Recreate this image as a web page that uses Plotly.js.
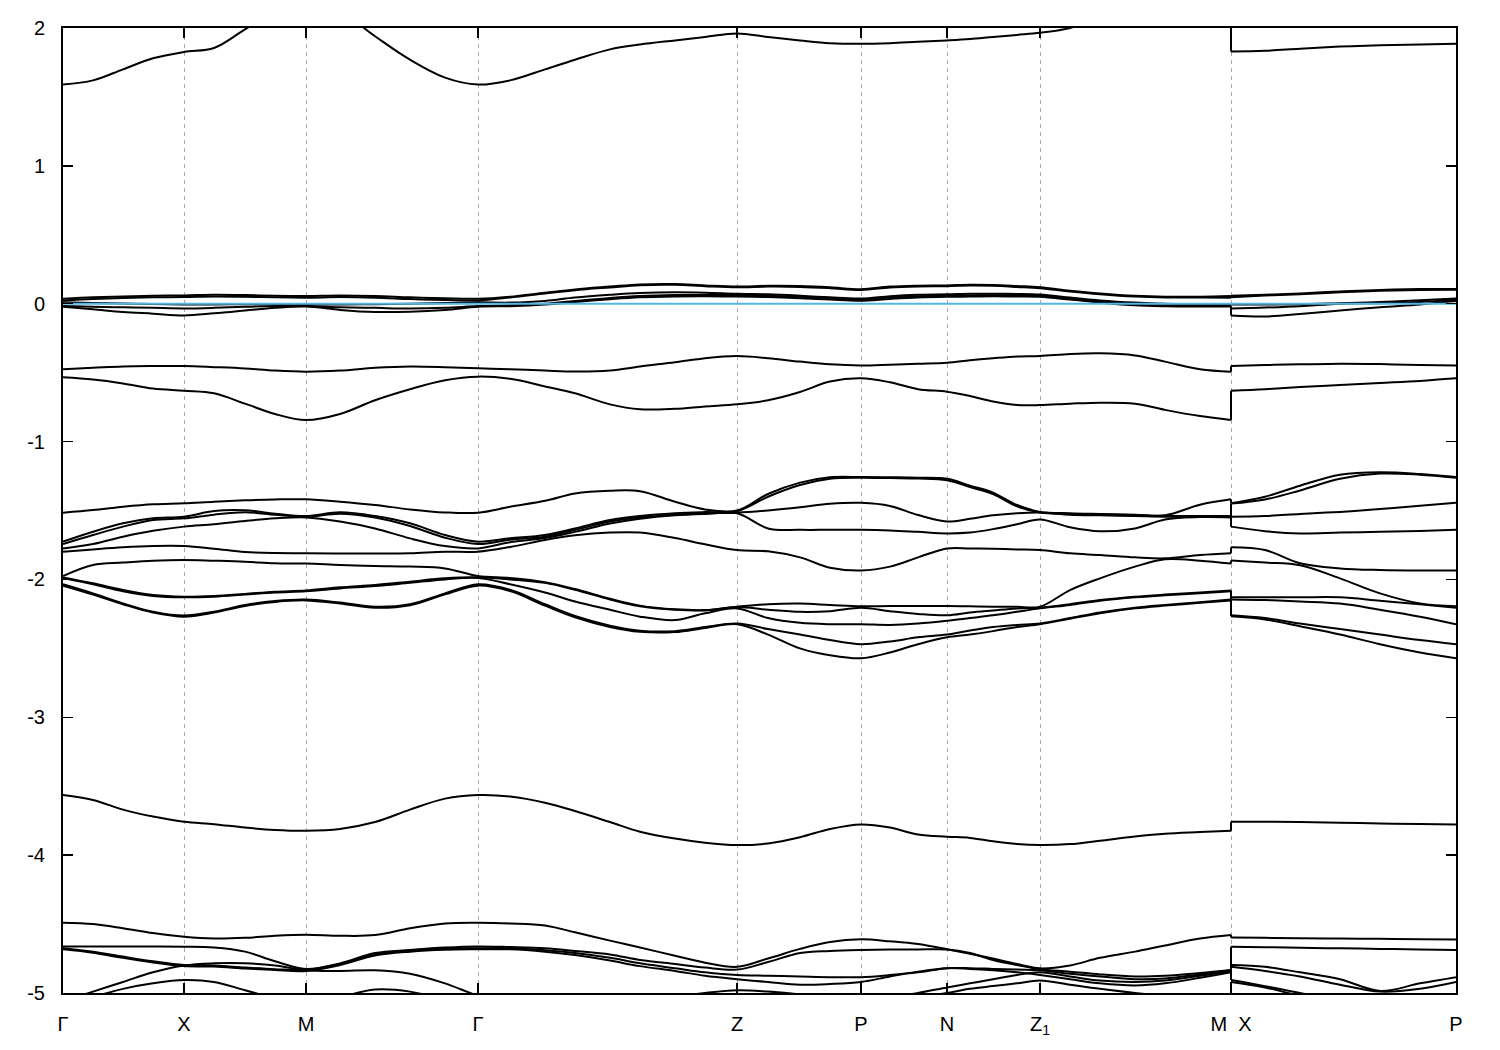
<!DOCTYPE html>
<html><head><meta charset="utf-8">
<script src="https://cdn.plot.ly/plotly-3.0.1.min.js"></script>
<style>html,body{margin:0;padding:0;background:#fff}#plot{width:1500px;height:1050px}</style>
</head><body><div id="plot"></div>
<script>
// k-path sample positions (arbitrary path-length units); index 38 = M (end of first path), 39 = X (start of second path)
const kGrid = [0, 0.030, 0.060, 0.090, 0.121, 0.151, 0.182, 0.212, 0.243, 0.277, 0.312, 0.347, 0.382, 0.415,
  0.447, 0.482, 0.512, 0.547, 0.577, 0.612, 0.642, 0.674, 0.705, 0.737, 0.767, 0.798, 0.827, 0.855, 0.884,
  0.907, 0.930, 0.954, 0.977, 1.007, 1.037, 1.072, 1.102, 1.137, 1.168, 1.168, 1.202, 1.237, 1.277, 1.317, 1.357, 1.393];
const kTicks = [0, 0.121, 0.243, 0.415, 0.674, 0.798, 0.884, 0.977, 1.168, 1.393];
const kLabels = ['Γ', 'X', 'M', 'Γ', 'Z', 'P', 'N', 'Z<sub>1</sub>', 'M\u00a0\u00a0X', 'P'];
const eTicks = [-5, -4, -3, -2, -1, 0, 1, 2];
const eLabels = ['-5', '-4', '-3', '-2', '-1', '0', '1', '2'];
const EF = 0;

// conduction band
const T = [1.59,1.62,1.70,1.78,1.826,1.855,1.99,2.12,2.18,2.12,1.94,1.77,1.64,1.59,1.62,1.70,1.77,1.845,1.88,1.91,1.935,1.96,1.935,1.91,1.89,1.885,1.89,1.90,1.91,1.92,1.935,1.95,1.965,2.0,2.08,2.15,2.2,2.2,2.18,1.83,1.835,1.85,1.865,1.875,1.88,1.885];
// bands near the Fermi level
const F1 = [0.036,0.046,0.053,0.058,0.06,0.065,0.063,0.058,0.056,0.06,0.056,0.046,0.039,0.036,0.051,0.08,0.104,0.124,0.14,0.143,0.133,0.125,0.13,0.128,0.119,0.105,0.124,0.131,0.133,0.138,0.136,0.128,0.119,0.095,0.075,0.058,0.051,0.051,0.056,0.058,0.065,0.075,0.089,0.10,0.106,0.107];
const F2 = [0.024,0.034,0.041,0.046,0.048,0.053,0.051,0.046,0.044,0.048,0.044,0.034,0.027,0.024,0.045,0.074,0.098,0.118,0.134,0.137,0.127,0.119,0.124,0.122,0.113,0.10,0.118,0.125,0.127,0.132,0.13,0.122,0.113,0.089,0.069,0.052,0.045,0.045,0.044,0.046,0.059,0.069,0.083,0.094,0.1,0.101];
const F3 = [0.01,0.006,0.002,-0.002,-0.005,-0.005,-0.004,-0.004,-0.005,-0.005,-0.003,0.0,0.005,0.01,0.008,0.02,0.045,0.065,0.078,0.083,0.08,0.072,0.068,0.058,0.046,0.038,0.055,0.065,0.068,0.072,0.073,0.071,0.066,0.045,0.024,0.008,0.0,-0.003,-0.005,-0.005,-0.006,-0.003,0.003,0.012,0.026,0.038];
const F4 = [-0.017,-0.022,-0.026,-0.03,-0.034,-0.03,-0.022,-0.017,-0.017,-0.025,-0.03,-0.035,-0.03,-0.017,-0.012,0.0,0.02,0.042,0.056,0.063,0.064,0.063,0.058,0.05,0.04,0.03,0.045,0.054,0.058,0.06,0.062,0.06,0.058,0.035,0.014,-0.005,-0.012,-0.015,-0.017,-0.034,-0.028,-0.018,0.0,0.004,0.012,0.028];
const F5 = [-0.022,-0.04,-0.06,-0.072,-0.085,-0.07,-0.05,-0.03,-0.02,-0.045,-0.06,-0.058,-0.045,-0.022,-0.018,-0.006,0.012,0.033,0.047,0.053,0.054,0.052,0.048,0.04,0.03,0.022,0.035,0.045,0.05,0.052,0.054,0.052,0.05,0.03,0.008,-0.012,-0.018,-0.02,-0.02,-0.085,-0.092,-0.075,-0.05,-0.025,-0.005,0.02];
// bands around -0.5 eV
const U1 = [-0.475,-0.465,-0.455,-0.452,-0.452,-0.46,-0.47,-0.485,-0.493,-0.485,-0.465,-0.455,-0.46,-0.469,-0.475,-0.485,-0.492,-0.485,-0.455,-0.425,-0.395,-0.38,-0.395,-0.42,-0.44,-0.448,-0.442,-0.435,-0.428,-0.41,-0.395,-0.382,-0.379,-0.365,-0.36,-0.375,-0.42,-0.476,-0.493,-0.452,-0.445,-0.44,-0.435,-0.438,-0.445,-0.448];
const U2 = [-0.534,-0.55,-0.578,-0.615,-0.631,-0.65,-0.725,-0.80,-0.844,-0.80,-0.70,-0.62,-0.555,-0.529,-0.545,-0.6,-0.65,-0.73,-0.766,-0.762,-0.745,-0.73,-0.70,-0.64,-0.565,-0.541,-0.57,-0.62,-0.638,-0.67,-0.71,-0.735,-0.735,-0.725,-0.718,-0.725,-0.77,-0.815,-0.844,-0.631,-0.62,-0.605,-0.59,-0.575,-0.56,-0.541];
// bands between -1.2 and -2.6 eV
const G1 = [-1.516,-1.497,-1.473,-1.455,-1.448,-1.436,-1.426,-1.42,-1.419,-1.436,-1.46,-1.492,-1.514,-1.516,-1.473,-1.43,-1.376,-1.357,-1.36,-1.436,-1.492,-1.50,-1.38,-1.298,-1.259,-1.257,-1.259,-1.262,-1.27,-1.32,-1.37,-1.46,-1.51,-1.52,-1.525,-1.53,-1.535,-1.458,-1.419,-1.448,-1.40,-1.32,-1.24,-1.222,-1.235,-1.257];
const G2 = [-1.726,-1.654,-1.593,-1.557,-1.545,-1.504,-1.499,-1.523,-1.54,-1.513,-1.54,-1.593,-1.678,-1.726,-1.702,-1.678,-1.63,-1.569,-1.54,-1.52,-1.511,-1.505,-1.40,-1.315,-1.27,-1.262,-1.265,-1.268,-1.28,-1.33,-1.38,-1.47,-1.515,-1.525,-1.53,-1.535,-1.54,-1.54,-1.54,-1.45,-1.42,-1.355,-1.27,-1.232,-1.24,-1.262];
const G3 = [-1.743,-1.678,-1.617,-1.569,-1.557,-1.53,-1.513,-1.53,-1.545,-1.523,-1.55,-1.612,-1.697,-1.743,-1.712,-1.69,-1.642,-1.58,-1.55,-1.53,-1.52,-1.516,-1.50,-1.477,-1.451,-1.444,-1.467,-1.533,-1.58,-1.56,-1.535,-1.52,-1.515,-1.53,-1.535,-1.54,-1.545,-1.545,-1.545,-1.545,-1.54,-1.525,-1.51,-1.49,-1.465,-1.444];
const G4 = [-1.775,-1.743,-1.69,-1.647,-1.617,-1.60,-1.576,-1.557,-1.55,-1.58,-1.63,-1.702,-1.758,-1.775,-1.73,-1.70,-1.655,-1.595,-1.56,-1.535,-1.525,-1.52,-1.63,-1.64,-1.64,-1.64,-1.645,-1.655,-1.666,-1.66,-1.635,-1.60,-1.565,-1.622,-1.651,-1.63,-1.565,-1.548,-1.55,-1.617,-1.65,-1.666,-1.66,-1.655,-1.648,-1.64];
const G5 = [-1.799,-1.782,-1.767,-1.758,-1.758,-1.777,-1.801,-1.809,-1.81,-1.812,-1.812,-1.81,-1.799,-1.799,-1.765,-1.714,-1.68,-1.66,-1.66,-1.70,-1.745,-1.787,-1.796,-1.84,-1.915,-1.935,-1.907,-1.84,-1.775,-1.775,-1.777,-1.782,-1.787,-1.811,-1.823,-1.84,-1.847,-1.823,-1.81,-1.767,-1.787,-1.883,-1.92,-1.932,-1.936,-1.935];
const G6 = [-1.975,-1.895,-1.878,-1.864,-1.859,-1.864,-1.871,-1.883,-1.885,-1.895,-1.902,-1.907,-1.92,-1.975,-1.99,-2.02,-2.07,-2.14,-2.19,-2.217,-2.222,-2.198,-2.18,-2.175,-2.185,-2.195,-2.193,-2.193,-2.193,-2.195,-2.198,-2.199,-2.198,-2.077,-1.992,-1.907,-1.854,-1.864,-1.885,-1.862,-1.878,-1.897,-1.992,-2.101,-2.174,-2.195];
const G7 = [-1.985,-2.028,-2.077,-2.113,-2.125,-2.12,-2.105,-2.089,-2.08,-2.057,-2.04,-2.016,-1.992,-1.985,-2.0,-2.025,-2.075,-2.145,-2.195,-2.22,-2.225,-2.20,-2.22,-2.235,-2.23,-2.205,-2.23,-2.25,-2.26,-2.24,-2.225,-2.21,-2.205,-2.18,-2.15,-2.125,-2.11,-2.095,-2.08,-2.13,-2.13,-2.13,-2.13,-2.155,-2.18,-2.205];
const G8 = [-1.99,-2.035,-2.085,-2.12,-2.13,-2.125,-2.11,-2.095,-2.086,-2.065,-2.048,-2.024,-2.0,-1.99,-2.035,-2.095,-2.16,-2.22,-2.27,-2.295,-2.246,-2.21,-2.28,-2.315,-2.325,-2.325,-2.33,-2.32,-2.30,-2.28,-2.26,-2.235,-2.21,-2.185,-2.155,-2.13,-2.115,-2.10,-2.086,-2.145,-2.15,-2.16,-2.175,-2.22,-2.27,-2.325];
const G9 = [-2.035,-2.101,-2.174,-2.234,-2.262,-2.234,-2.186,-2.157,-2.146,-2.168,-2.198,-2.18,-2.101,-2.035,-2.075,-2.18,-2.265,-2.335,-2.372,-2.375,-2.345,-2.32,-2.36,-2.40,-2.44,-2.47,-2.45,-2.42,-2.40,-2.37,-2.345,-2.33,-2.319,-2.28,-2.24,-2.205,-2.185,-2.165,-2.146,-2.26,-2.28,-2.32,-2.36,-2.40,-2.44,-2.47];
const G10 = [-2.045,-2.11,-2.18,-2.24,-2.27,-2.24,-2.192,-2.163,-2.152,-2.175,-2.205,-2.187,-2.108,-2.045,-2.085,-2.19,-2.275,-2.345,-2.38,-2.382,-2.352,-2.325,-2.40,-2.50,-2.55,-2.572,-2.53,-2.47,-2.42,-2.40,-2.375,-2.345,-2.325,-2.285,-2.245,-2.21,-2.19,-2.17,-2.152,-2.267,-2.29,-2.34,-2.40,-2.47,-2.53,-2.572];
// band around -3.8 eV
const V = [-3.564,-3.60,-3.67,-3.72,-3.757,-3.775,-3.80,-3.817,-3.823,-3.81,-3.76,-3.67,-3.59,-3.564,-3.575,-3.62,-3.68,-3.76,-3.83,-3.88,-3.91,-3.927,-3.915,-3.87,-3.81,-3.777,-3.80,-3.85,-3.866,-3.875,-3.90,-3.92,-3.927,-3.92,-3.895,-3.865,-3.845,-3.833,-3.823,-3.757,-3.758,-3.760,-3.765,-3.770,-3.774,-3.777];
// bands below -4.4 eV
const B1 = [-4.49,-4.50,-4.53,-4.565,-4.592,-4.605,-4.60,-4.585,-4.577,-4.585,-4.58,-4.53,-4.495,-4.49,-4.495,-4.51,-4.56,-4.62,-4.67,-4.73,-4.78,-4.81,-4.75,-4.68,-4.63,-4.611,-4.625,-4.645,-4.683,-4.715,-4.75,-4.79,-4.821,-4.80,-4.745,-4.70,-4.655,-4.605,-4.579,-4.598,-4.60,-4.602,-4.605,-4.607,-4.61,-4.612];
const B2 = [-4.662,-4.662,-4.663,-4.663,-4.664,-4.67,-4.70,-4.77,-4.825,-4.785,-4.71,-4.688,-4.67,-4.662,-4.667,-4.676,-4.695,-4.72,-4.76,-4.79,-4.815,-4.83,-4.775,-4.71,-4.695,-4.688,-4.685,-4.684,-4.684,-4.71,-4.76,-4.797,-4.828,-4.845,-4.865,-4.88,-4.875,-4.855,-4.833,-4.664,-4.668,-4.672,-4.676,-4.68,-4.684,-4.688];
const B3 = [-4.675,-4.70,-4.736,-4.77,-4.797,-4.80,-4.815,-4.827,-4.833,-4.79,-4.72,-4.692,-4.678,-4.675,-4.675,-4.69,-4.71,-4.745,-4.785,-4.82,-4.85,-4.87,-4.875,-4.88,-4.885,-4.885,-4.87,-4.85,-4.82,-4.82,-4.825,-4.83,-4.835,-4.86,-4.88,-4.90,-4.895,-4.865,-4.835,-4.797,-4.81,-4.85,-4.90,-4.985,-4.93,-4.885];
const B4 = [-5.06,-4.99,-4.92,-4.85,-4.80,-4.785,-4.785,-4.80,-4.835,-4.84,-4.835,-4.86,-4.93,-5.02,-5.08,-5.12,-5.14,-5.12,-5.08,-5.03,-5.0,-4.98,-4.99,-5.01,-5.03,-5.04,-5.03,-5.0,-4.96,-4.93,-4.9,-4.87,-4.85,-4.88,-4.91,-4.92,-4.91,-4.875,-4.84,-4.906,-4.95,-5.0,-5.05,-5.08,-5.07,-5.04];
const B5 = [-5.1,-5.03,-4.97,-4.93,-4.906,-4.92,-4.98,-5.04,-5.08,-5.03,-4.975,-4.99,-5.05,-5.1,-5.12,-5.13,-5.13,-5.12,-5.1,-5.07,-5.04,-5.02,-5.03,-5.05,-5.06,-5.06,-5.05,-5.03,-5.0,-4.97,-4.95,-4.93,-4.91,-4.94,-4.97,-5.0,-5.02,-5.04,-5.08,-4.92,-4.96,-5.02,-5.07,-5.1,-5.08,-5.06];
const B6 = [-4.683,-4.708,-4.745,-4.778,-4.805,-4.808,-4.822,-4.833,-4.84,-4.797,-4.728,-4.70,-4.686,-4.683,-4.683,-4.70,-4.725,-4.765,-4.805,-4.84,-4.875,-4.9,-4.92,-4.94,-4.935,-4.92,-4.88,-4.845,-4.82,-4.825,-4.835,-4.85,-4.87,-4.9,-4.93,-4.945,-4.93,-4.89,-4.85,-4.81,-4.84,-4.88,-4.94,-4.99,-4.97,-4.92];

const bands = [T, F1, F2, F3, F4, F5, U1, U2, G1, G2, G3, G4, G5, G6, G7, G8, G9, G10, V, B1, B2, B3, B4, B5, B6];
const SPLIT = 39; // first index of the X-P path

const bandLine = {color: '#000000', width: 2, shape: 'spline', smoothing: 1};
const jumpLine = {color: '#000000', width: 2};
const traces = [];
bands.forEach(function (b) {
  traces.push({type: 'scatter', mode: 'lines', x: kGrid.slice(0, SPLIT), y: b.slice(0, SPLIT),
    line: bandLine, hoverinfo: 'skip', showlegend: false});
  traces.push({type: 'scatter', mode: 'lines', x: kGrid.slice(SPLIT - 1, SPLIT + 1), y: b.slice(SPLIT - 1, SPLIT + 1),
    line: jumpLine, hoverinfo: 'skip', showlegend: false});
  traces.push({type: 'scatter', mode: 'lines', x: kGrid.slice(SPLIT), y: b.slice(SPLIT),
    line: bandLine, hoverinfo: 'skip', showlegend: false});
});
traces.push({type: 'scatter', mode: 'lines', x: [kGrid[0], kGrid[kGrid.length - 1]], y: [EF, EF],
  line: {color: '#56b4e9', width: 2}, hoverinfo: 'skip', showlegend: false});

const axisCommon = {
  ticks: 'inside', ticklen: 10, tickwidth: 1.5, tickcolor: '#000',
  mirror: 'allticks', showline: true, linecolor: '#000', linewidth: 2,
  zeroline: false, fixedrange: true, tickmode: 'array', ticklabelstandoff: 12
};
const layout = {
  width: 1500, height: 1050,
  margin: {l: 63, r: 44, t: 28, b: 57},
  paper_bgcolor: '#ffffff', plot_bgcolor: '#ffffff',
  font: {family: 'Liberation Sans, Arial, sans-serif', size: 20, color: '#000'},
  showlegend: false, hovermode: false,
  xaxis: Object.assign({}, axisCommon, {
    range: [0, kGrid[kGrid.length - 1]], tickvals: kTicks, ticktext: kLabels,
    showgrid: true, gridcolor: '#a8a8a8', gridwidth: 1, griddash: '4px,4px'
  }),
  yaxis: Object.assign({}, axisCommon, {
    range: [-5, 2], tickvals: eTicks, ticktext: eLabels, showgrid: false
  })
};
Plotly.newPlot('plot', traces, layout, {staticPlot: true, displayModeBar: false});
</script>
</body></html>
